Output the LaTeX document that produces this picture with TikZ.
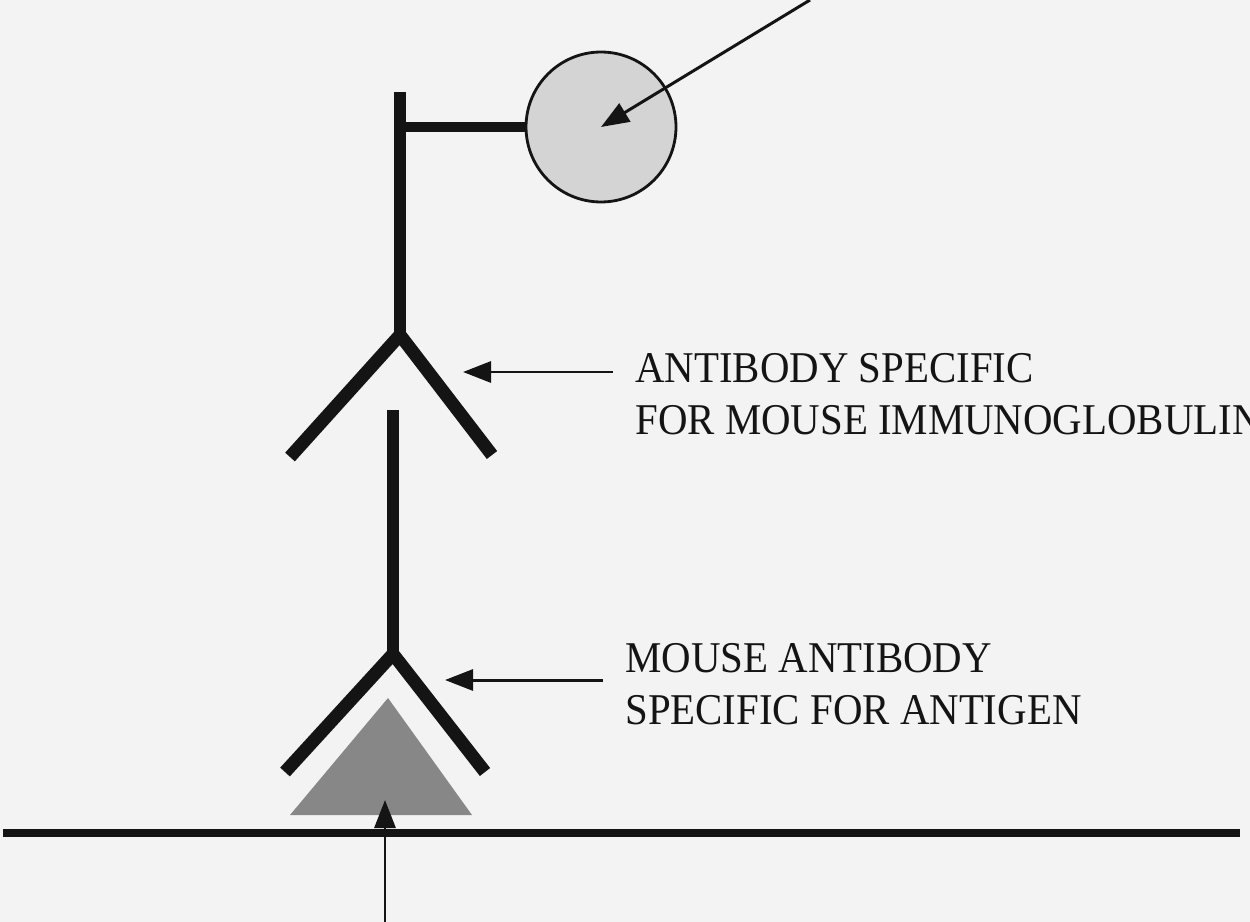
\documentclass[tikz,border=0pt]{standalone}
\usepackage{fontspec}
\setmainfont{Liberation Serif}
\newfontfamily\rotulofont[FakeStretch=0.93]{Liberation Serif}
\usetikzlibrary{arrows.meta,positioning,calc}
\definecolor{papel}{RGB}{243,243,243}
\definecolor{tinta}{RGB}{20,20,20}
\definecolor{cinzaHapteno}{RGB}{212,212,212}
\definecolor{cinzaAntigeno}{RGB}{135,135,135}
\tikzset{
  haste/.style={line width=6.4pt, tinta},
  braco/.style={line width=7.4pt, tinta, line join=miter},
  hapteno/.style={circle, draw=tinta, line width=1.6pt, fill=cinzaHapteno,
                  minimum size=3cm, inner sep=0pt},
  antigeno/.style={fill=cinzaAntigeno},
  superficie/.style={line width=4.2pt, tinta},
  seta/.style={-{Triangle[length=5.6mm,width=4.2mm]}, line width=1.7pt, tinta},
  rotulo/.style={align=left, inner xsep=0.44cm, inner ysep=0pt, text=tinta,
                 font=\rotulofont\fontsize{25}{29.6}\selectfont},
}

\begin{document}
\begin{tikzpicture}[x=0.02cm, y=-0.02cm]
  \useasboundingbox (0,0) rectangle (1250,922);
  \clip (0,0) rectangle (1250,922);
  \fill[papel] (0,0) rectangle (1250,922);
  % anticorpo de cima, com o hapteno
  \node[hapteno] (hapteno) at (601,127) {};
  \draw[haste] (400,92) -- (400,336);
  \draw[haste, line width=5.4pt] (400,127) -- (hapteno.west);
  \draw[braco] (290,457) -- (400,335) -- (492,455);
  % antigeno e anticorpo de baixo
  \fill[antigeno] (388,698) -- (472,815) -- (290,815) -- cycle;
  \draw[haste] (393,410) -- (393,655);
  \draw[braco] (285,772) -- (393,654) -- (485,772);
  \draw[superficie] (3,833) -- (1240,833);
  % rotulos
  \node[rotulo, anchor=west] (antiLbl) at (613,394) {ANTIBODY SPECIFIC\\FOR MOUSE IMMUNOGLOBULIN};
  \node[rotulo, anchor=west] (mouseLbl) at (603,684) {MOUSE ANTIBODY\\SPECIFIC FOR ANTIGEN};
  \coordinate (pontaA) at (463,372);
  \coordinate (pontaB) at (445,680);
  \coordinate (origemC) at (810,0);
  \coordinate (baseSeta) at (385,922);
  \coordinate (antigeno) at (385,800);
  \draw[seta] (antiLbl.west |- pontaA) -- (pontaA);
  \draw[seta] (mouseLbl.west |- pontaB) -- (pontaB);
  \draw[seta] (origemC) -- (hapteno.center);
  \draw[seta] (baseSeta) -- (antigeno);
\end{tikzpicture}
\end{document}
